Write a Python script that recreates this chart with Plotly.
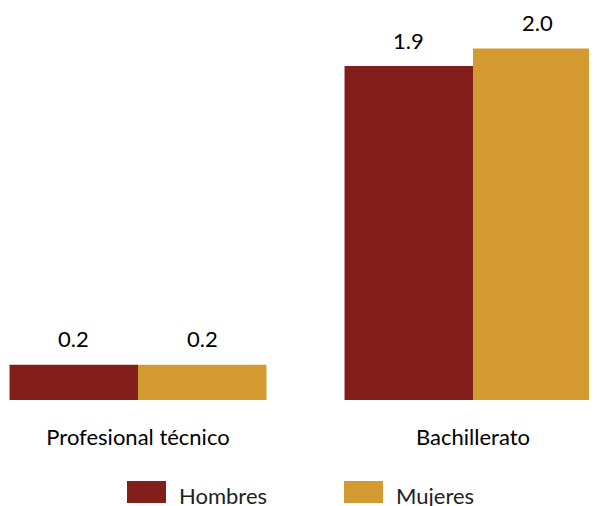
import plotly.graph_objects as go

categories = ["Profesional técnico", "Bachillerato"]
series_names = ["Hombres", "Mujeres"]
hombres = [0.2, 1.9]
mujeres = [0.2, 2.0]
colors = ["#821F1B", "#D39A31"]

OFF = 8  # page body margin offset
W, H = 597 - OFF, 506 - OFF
FONT = "Lato"
FS = 22

plot_h = 400 - OFF
unit_px = 175.75
cat_px = 335
x0 = -(138 - OFF) / cat_px
bar_px = 128.5

fig = go.Figure()
for i, (name, vals, col) in enumerate(zip(series_names, [hombres, mujeres], colors)):
    fig.add_trace(go.Bar(
        x=categories, y=vals, name=name, marker=dict(color=col, line=dict(width=0)),
        showlegend=False,
    ))
    shift = (i - 0.5) * bar_px
    for c, v in zip(categories, vals):
        fig.add_annotation(x=c, y=v, text=f"{v:.1f}", showarrow=False,
                           xanchor="center", yanchor="middle", xshift=shift, yshift=26,
                           font=dict(family=FONT, size=FS, color="#000000"))

def py(p):
    return (plot_h - (p - OFF)) / plot_h

legend_x = [127, 344]
for name, col, lx in zip(series_names, colors, legend_x):
    fig.add_shape(type="rect", xref="paper", yref="paper",
                  x0=(lx - OFF) / W, x1=(lx - OFF + 39) / W, y0=py(503), y1=py(481),
                  fillcolor=col, line=dict(width=0))
    fig.add_annotation(xref="paper", yref="paper", x=(lx - OFF + 50) / W, y=py(495),
                       text=name, showarrow=False, xanchor="left", yanchor="middle",
                       font=dict(family=FONT, size=FS, color="#222222"))

fig.update_layout(
    width=W, height=H, barmode="group", bargap=0.233, bargroupgap=0,
    margin=dict(l=0, r=0, t=0, b=H - plot_h, pad=0),
    paper_bgcolor="white", plot_bgcolor="white",
    xaxis=dict(range=[x0, x0 + W / cat_px], showgrid=False, showline=False, zeroline=False,
               ticks="outside", ticklen=18, tickcolor="rgba(0,0,0,0)",
               tickfont=dict(family=FONT, size=FS, color="#000000")),
    yaxis=dict(range=[0, plot_h / unit_px], visible=False),
)
fig.write_html("out.html")
